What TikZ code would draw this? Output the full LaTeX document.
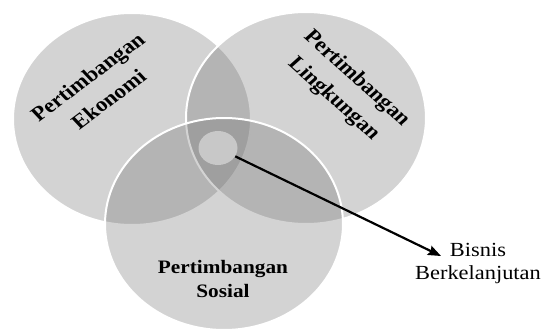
\documentclass[tikz,border=0pt]{standalone}
\usepackage{fontspec}
\setmainfont{Liberation Serif}
\usetikzlibrary{arrows.meta,shapes.geometric}
\definecolor{venngray}{RGB}{106,106,106}
\definecolor{coregray}{RGB}{200,200,200}
\tikzset{
  venn/.style={fill=venngray, fill opacity=0.295, draw=white, line width=2pt},
  vennlabel/.style={font=\fontsize{20.5}{24}\selectfont\bfseries, align=center, inner sep=0pt, xscale=1.12}
}

\begin{document}
\begin{tikzpicture}[x=1pt,y=-1pt]
\useasboundingbox (0,0) rectangle (542,332);
% the three sets
\draw[venn] (132,119) ellipse [x radius=119, y radius=106];
\draw[venn] (306,118) ellipse [x radius=120, y radius=106];
\draw[venn] (224,224) ellipse [x radius=119, y radius=106];
\node[vennlabel, rotate=40] (ekonomi) at (98,88) {Pertimbangan\\[5pt]Ekonomi};
\node[vennlabel, rotate=-45] (lingkungan) at (345,89) {Pertimbangan\\[5pt]Lingkungan};
\node[vennlabel, font=\fontsize{19}{24}\selectfont\bfseries] (sosial) at (223,279) {Pertimbangan\\Sosial};
% centre and arrow
\node[ellipse, fill=coregray, minimum width=39pt, minimum height=34pt, inner sep=0pt] (core) at (218,148) {};
\node[font=\fontsize{20}{23}\selectfont, align=center, inner sep=0pt, xscale=1.12] (bisnis) at (478,264) {Bisnis\\Berkelanjutan};
\coordinate (tip) at (441,256);
\draw[line width=2.2pt, -{Stealth[length=13pt,width=10pt,inset=2pt]}] (core) -- (tip);
\end{tikzpicture}
\end{document}
